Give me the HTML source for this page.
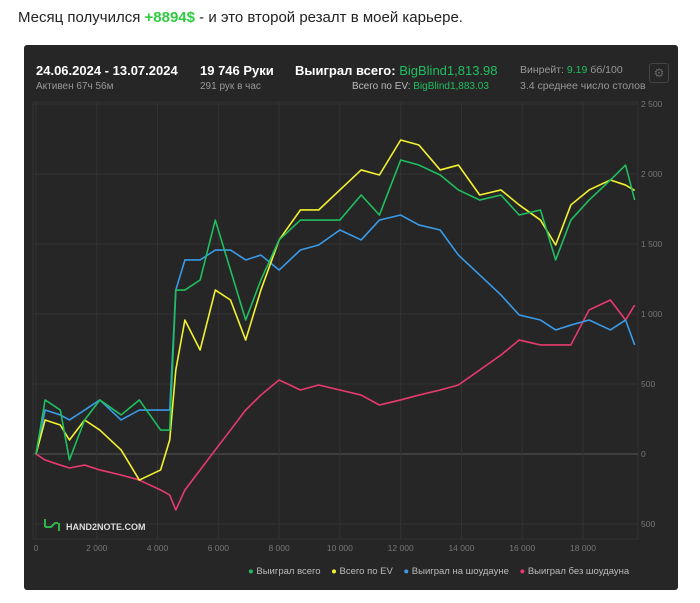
<!DOCTYPE html>
<html><head><meta charset="utf-8"><style>
body{margin:0;width:700px;height:603px;background:#fff;font-family:"Liberation Sans",sans-serif;overflow:hidden;position:relative}
.title{position:absolute;left:18px;top:9px;font-size:15px;color:#222}
.title b{color:#2ecc40;font-weight:bold}
.panel{position:absolute;left:24px;top:45px;width:654px;height:545px;background:#262626;border-radius:3px}
.t{position:absolute;white-space:nowrap}
.g{color:#1fbf5f}
</style></head><body>
<div class="title">Месяц получился <b>+8894$</b> - и это второй резалт в моей карьере.</div>
<div class="panel">
<div class="t" style="left:12px;top:18px;font-size:13px;color:#fff;font-weight:bold">24.06.2024 - 13.07.2024</div>
<div class="t" style="left:12px;top:36px;font-size:10px;color:#999">Активен 67ч 56м</div>
<div class="t" style="left:176px;top:18px;font-size:13px;color:#fff;font-weight:bold">19 746 Руки</div>
<div class="t" style="left:176px;top:36px;font-size:10px;color:#999">291 рук в час</div>
<div class="t" style="left:271px;top:18px;font-size:13px;color:#fff;font-weight:bold">Выиграл всего: <span class="g" style="font-weight:normal">BigBlind1,813.98</span></div>
<div class="t" style="left:328px;top:36px;font-size:10px;color:#bbb">Всего по EV: <span class="g">BigBlind1,883.03</span></div>
<div class="t" style="left:496px;top:19px;font-size:10.5px;color:#999">Винрейт: <span class="g">9.19</span> бб/100</div>
<div class="t" style="left:496px;top:35px;font-size:10.5px;color:#999">3.4 среднее число столов</div>
<div class="t" style="left:625px;top:18px;width:18px;height:18px;border:1px solid #444;border-radius:3px;color:#666;font-size:12px;text-align:center;line-height:18px">⚙</div>
</div>
<svg id="chart" width="700" height="603" style="position:absolute;left:0;top:0"></svg>
<div class="t" style="left:248px;top:566px;font-size:9.5px;color:#bbb">
<span><span style="color:#1fbf5f">●</span> Выиграл всего</span>&nbsp;&nbsp;&nbsp;
<span><span style="color:#f2f230">●</span> Всего по EV</span>&nbsp;&nbsp;&nbsp;
<span><span style="color:#3a9be8">●</span> Выиграл на шоудауне</span>&nbsp;&nbsp;&nbsp;
<span><span style="color:#e83a6e">●</span> Выиграл без шоудауна</span>
</div>
<script>
const hands=[0,300,800,1100,1600,2100,2800,3400,4100,4400,4600,4900,5400,5900,6400,6900,7400,8000,8700,9300,10000,10700,11300,12000,12600,13300,13900,14600,15300,15900,16600,17100,17600,18200,18900,19400,19700];
const wonTotal=[0,386,314,-43,243,386,279,386,171,171,1171,1171,1243,1671,1314,957,1243,1529,1671,1671,1671,1850,1707,2100,2064,1993,1886,1814,1850,1707,1743,1386,1671,1814,1957,2064,1814];
const evTotal=[0,243,207,100,243,171,29,-186,-114,100,600,957,743,1171,1100,814,1171,1529,1743,1743,1886,2029,1993,2243,2207,2029,2064,1850,1886,1779,1671,1493,1779,1886,1957,1921,1883];
const showdown=[0,314,279,243,314,386,243,314,314,314,1171,1386,1386,1457,1457,1386,1421,1314,1457,1493,1600,1529,1671,1707,1636,1600,1421,1279,1136,993,957,886,921,957,886,957,779];
const nonShowdown=[0,-43,-79,-100,-79,-114,-150,-186,-257,-293,-400,-257,-114,29,171,314,421,529,457,493,457,421,350,386,421,457,493,600,707,814,779,779,779,1029,1100,957,1064];
const xTicks=[0,2000,4000,6000,8000,10000,12000,14000,16000,18000];
const xTickLabels=["0","2 000","4 000","6 000","8 000","10 000","12 000","14 000","16 000","18 000"];
const yTicks=[2500,2000,1500,1000,500,0,-500];
const yTickLabels=["2 500","2 000","1 500","1 000","500","0","500"];
const svg=document.getElementById('chart');const NS='http://www.w3.org/2000/svg';
const X=h=>36+h*0.03039, Y=v=>454-v*0.14;
function el(t,a){const e=document.createElementNS(NS,t);for(const k in a)e.setAttribute(k,a[k]);svg.appendChild(e);return e;}
const fr=el('rect',{x:33,y:102,width:605,height:437,fill:'none',stroke:'#333'});


yTicks.forEach((v,i)=>{
 const l=el('line',{x1:33,x2:638,y1:Y(v),y2:Y(v),stroke:v===0?'#555':'#333'});
 
 
 const t=el('text',{x:641,y:Y(v)+3,fill:'#777','font-size':8.5,'font-family':'Liberation Sans'});t.textContent=yTickLabels[i];
 
 
});
xTicks.forEach((h,i)=>{
 const l=el('line',{x1:X(h),x2:X(h),y1:102,y2:539,stroke:'#333'});
 
 
 const t=el('text',{x:X(h),y:551,fill:'#777','font-size':8.5,'text-anchor':'middle','font-family':'Liberation Sans'});t.textContent=xTickLabels[i];
 
 
});
[[nonShowdown,'#e83a6e','line-non-showdown'],[showdown,'#3a9be8','line-showdown'],[evTotal,'#f2f230','line-ev'],[wonTotal,'#1fbf5f','line-won-total']].forEach(([s,c,n])=>{
 const p=el('polyline',{points:s.map((v,i)=>X(hands[i])+','+Y(v)).join(' '),fill:'none',stroke:c,'stroke-width':1.6,'stroke-linejoin':'round'});
 
 
});
const wm=el('text',{x:66,y:530,fill:'#ddd','font-size':9,'font-weight':'bold','font-family':'Liberation Sans'});wm.textContent='HAND2NOTE.COM';


const lg=el('path',{d:'M45 519v8M45 527h6l4-4h3M59 523v8',stroke:'#2db34a','stroke-width':2,fill:'none'});


</script>
</body></html>
